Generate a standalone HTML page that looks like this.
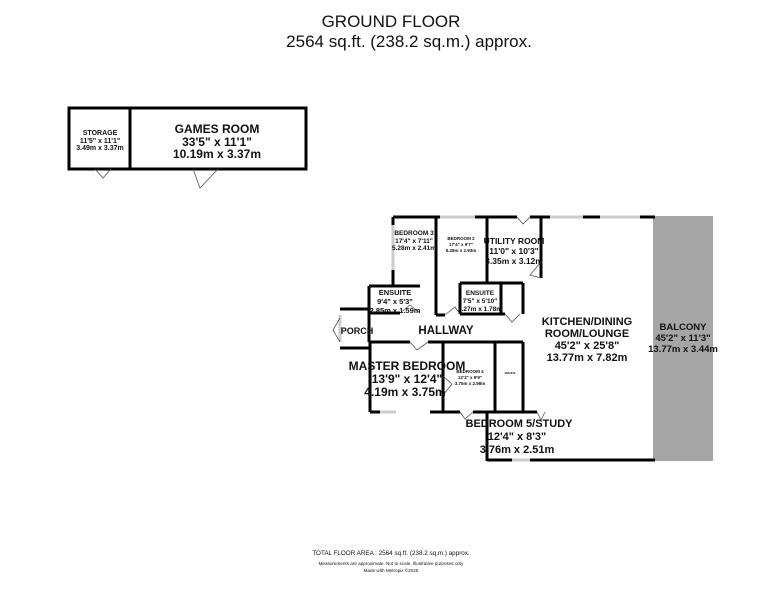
<!DOCTYPE html>
<html><head><meta charset="utf-8"><style>
html,body{margin:0;padding:0;background:#fff;}
svg{display:block;font-family:"Liberation Sans",Arial,sans-serif;}
text{fill:#111;}
</style></head><body>
<svg width="782" height="600" viewBox="0 0 782 600" xmlns="http://www.w3.org/2000/svg">
<text x="391" y="27" font-size="17" text-anchor="middle">GROUND FLOOR</text>
<text x="409" y="47" font-size="17" text-anchor="middle">2564 sq.ft. (238.2 sq.m.) approx.</text>

<!-- outbuilding -->
<g stroke="#000" fill="none" stroke-width="3">
<rect x="69" y="108" width="237" height="61"/>
<line x1="130" y1="108" x2="130" y2="169"/>
</g>
<g stroke="#555" fill="none" stroke-width="0.8">
<polyline points="95,169 103,178 111,169"/>
<polyline points="193,169 200,188 218,169"/>
</g>
<g font-weight="bold" text-anchor="middle">
<text x="100" y="135" font-size="7">STORAGE</text>
<text x="100" y="143" font-size="7">11'5"  x 11'1"</text>
<text x="100" y="150" font-size="7">3.49m  x 3.37m</text>
<text x="217" y="133" font-size="12">GAMES ROOM</text>
<text x="217" y="146" font-size="12">33'5"  x 11'1"</text>
<text x="217" y="158" font-size="12">10.19m  x 3.37m</text>
</g>

<!-- balcony -->
<rect x="653" y="216" width="60" height="245" fill="#a6a6a6"/>

<!-- walls -->
<g stroke="#000" fill="none" stroke-width="3">
<line x1="393" y1="217" x2="440" y2="217"/>
<line x1="475" y1="217" x2="517" y2="217"/>
<line x1="530" y1="217" x2="550" y2="217"/>
<line x1="583" y1="217" x2="600" y2="217"/>
<line x1="640" y1="217" x2="655" y2="217"/>
<line x1="393" y1="217" x2="393" y2="225"/>
<line x1="393" y1="270" x2="393" y2="287"/>
<line x1="436" y1="217" x2="436" y2="315"/>
<line x1="487" y1="217" x2="487" y2="283"/>
<line x1="541" y1="217" x2="541" y2="278"/>
<line x1="369" y1="286" x2="420" y2="286"/>
<line x1="369" y1="286" x2="369" y2="342"/>
<line x1="369" y1="313" x2="400" y2="313"/>
<line x1="436" y1="315" x2="445" y2="315"/>
<line x1="460" y1="283" x2="523" y2="283"/>
<line x1="460" y1="283" x2="460" y2="314"/>
<line x1="460" y1="314" x2="505" y2="314"/>
<line x1="501" y1="283" x2="501" y2="314"/>
<line x1="523" y1="283" x2="523" y2="314"/>
<line x1="340" y1="309" x2="369" y2="309"/>
<line x1="340" y1="348" x2="370" y2="348"/>
<line x1="370" y1="342" x2="410" y2="342"/>
<line x1="428" y1="342" x2="523" y2="342"/>
<line x1="370" y1="342" x2="370" y2="412"/>
<line x1="443" y1="342" x2="443" y2="412"/>
<line x1="495" y1="342" x2="495" y2="412"/>
<line x1="523" y1="342" x2="523" y2="412"/>
<line x1="370" y1="412" x2="380" y2="412"/>
<line x1="430" y1="412" x2="460" y2="412"/>
<line x1="473" y1="412" x2="537" y2="412"/>
<line x1="487" y1="412" x2="487" y2="461"/>
<line x1="487" y1="460" x2="512" y2="460"/>
<line x1="530" y1="460" x2="655" y2="460"/>
</g>
<g stroke="#ccc" stroke-width="3">
<line x1="393" y1="225" x2="393" y2="270"/>
<line x1="440" y1="217" x2="475" y2="217"/>
<line x1="600" y1="217" x2="640" y2="217"/>
<line x1="550" y1="217" x2="583" y2="217"/>
<line x1="380" y1="412" x2="396" y2="412"/>
<line x1="512" y1="460" x2="530" y2="460"/>
<line x1="340" y1="315" x2="340" y2="342"/>
</g>
<g stroke="#555" fill="none" stroke-width="0.8">
<polyline points="517,217 523,224 530,217"/>
<polyline points="541,278 530,275 541,262"/>
<polyline points="400,313 410,305 420,313"/>
<polyline points="445,315 455,307 460,314"/>
<polyline points="505,314 512,322 520,314"/>
<polyline points="410,342 417,350 428,342"/>
<polyline points="340,318 333,330 340,342"/>
<polyline points="443,376 452,384 443,395"/>
<polyline points="460,412 465,419 473,412"/>
<polyline points="537,412 541,420 545,412"/>
</g>

<g font-weight="bold" text-anchor="middle">
<text x="414" y="235" font-size="6.5">BEDROOM 3</text>
<text x="414" y="243" font-size="6.5">17'4"  x 7'11"</text>
<text x="414" y="250" font-size="6.5">5.28m  x 2.41m</text>
<text x="461" y="240" font-size="4.5">BEDROOM 2</text>
<text x="461" y="246" font-size="4.5">17'4"  x 9'7"</text>
<text x="461" y="252" font-size="4.5">5.28m  x 2.93m</text>
<text x="514" y="244" font-size="8.5">UTILITY ROOM</text>
<text x="514" y="254" font-size="8.5">11'0"  x 10'3"</text>
<text x="514" y="264" font-size="8.5">3.35m  x 3.12m</text>
<text x="395" y="295" font-size="7.5">ENSUITE</text>
<text x="395" y="304" font-size="7.5">9'4"  x 5'3"</text>
<text x="395" y="313" font-size="7.5">2.85m  x 1.59m</text>
<text x="480" y="295" font-size="6.5">ENSUITE</text>
<text x="480" y="303" font-size="6.5">7'5"  x 5'10"</text>
<text x="480" y="311" font-size="6.5">2.27m  x 1.78m</text>
<text x="357" y="334" font-size="9">PORCH</text>
<text x="446" y="334" font-size="11.5">HALLWAY</text>
<text x="407" y="370" font-size="12">MASTER BEDROOM</text>
<text x="407" y="383" font-size="12">13'9"  x 12'4"</text>
<text x="405" y="396" font-size="12">4.19m  x 3.75m</text>
<text x="470" y="373" font-size="4.5">BEDROOM 4</text>
<text x="470" y="379" font-size="4.5">12'3"  x 9'9"</text>
<text x="470" y="385" font-size="4.5">3.75m  x 2.98m</text>
<text x="510" y="374" font-size="2.5">ENSUITE</text>
<text x="519" y="427" font-size="11">BEDROOM 5/STUDY</text>
<text x="517" y="440" font-size="11">12'4"  x 8'3"</text>
<text x="517" y="453" font-size="11">3.76m  x 2.51m</text>
<text x="587" y="325" font-size="11">KITCHEN/DINING</text>
<text x="587" y="337" font-size="11">ROOM/LOUNGE</text>
<text x="587" y="349" font-size="11">45'2"  x 25'8"</text>
<text x="587" y="361" font-size="11">13.77m  x 7.82m</text>
<text x="683" y="330" font-size="9.5">BALCONY</text>
<text x="683" y="341" font-size="9.5">45'2"  x 11'3"</text>
<text x="683" y="352" font-size="9.5">13.77m  x 3.44m</text>
</g>

<text x="391" y="555" font-size="6.3" text-anchor="middle">TOTAL FLOOR AREA : 2564 sq.ft. (238.2 sq.m.) approx.</text>
<text x="391" y="565" font-size="4.6" text-anchor="middle">Measurements are approximate.  Not to scale.  Illustrative purposes only</text>
<text x="391" y="572" font-size="4.6" text-anchor="middle">Made with Metropix ©2025</text>
</svg>
</body></html>
